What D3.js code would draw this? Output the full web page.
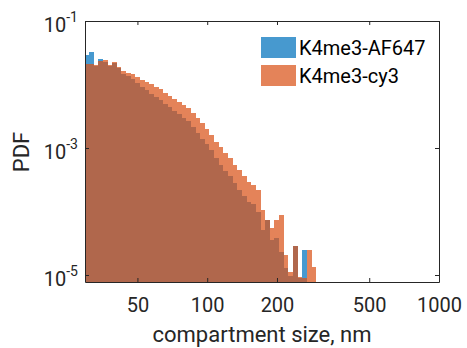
<!DOCTYPE html>
<html>
<head>
<meta charset="utf-8">
<script src="https://cdn.jsdelivr.net/npm/d3@7"></script>
<style>
  html, body { margin: 0; padding: 0; background: #fff; }
  svg { display: block; font-family: Roboto, "Liberation Sans", Arial, sans-serif; }
</style>
</head>
<body>
<svg id="chart" width="467" height="348"></svg>
<script>
// Bin edges (nm), logarithmically spaced
const binEdges = [29.51, 30.90, 32.36, 33.88, 35.48, 37.15, 38.90, 40.74, 42.66, 44.67,
  46.77, 48.98, 51.29, 53.70, 56.23, 58.88, 61.66, 64.57, 67.61, 70.79,
  74.13, 77.62, 81.28, 85.11, 89.13, 93.33, 97.72, 102.3, 107.2, 112.2,
  117.5, 123.0, 128.8, 134.9, 141.3, 147.9, 154.9, 162.2, 169.8, 177.8,
  186.2, 195.0, 204.2, 213.8, 223.9, 234.4, 245.5, 257.0, 269.2, 281.8, 295.1];

// PDF values per bin
const af647Values = [0.0292, 0.0325, 0.0196, 0.0252, 0.0226, 0.0196, 0.0218, 0.0182, 0.0146, 0.0136,
  0.0122, 0.0106, 0.00914, 0.00819, 0.00709, 0.00635, 0.00570, 0.00493, 0.00442, 0.00383,
  0.00343, 0.00296, 0.00266, 0.00214, 0.00172, 0.00139, 0.00116, 0.000931, 0.000696, 0.000540,
  0.000434, 0.000362, 0.000281, 0.000218, 0.000175, 0.000141, 0.000131, 0.0000983, 0.0000512, 0.0000735,
  0.0000356, 0.0000383, 0.0000230, 0.0000129, 0.0000096, 0.0000286, 0.0000090, 0.0000248, 0, 0];

const cy3Values = [0.0210, 0.0210, 0.0203, 0.0234, 0.0243, 0.0203, 0.0226, 0.0189, 0.0163, 0.0152,
  0.0146, 0.0131, 0.0118, 0.0110, 0.0102, 0.00914, 0.00850, 0.00735, 0.00659, 0.00591,
  0.00530, 0.00475, 0.00427, 0.00356, 0.00296, 0.00248, 0.00199, 0.00160, 0.00124, 0.00104,
  0.000834, 0.000696, 0.000540, 0.000450, 0.000362, 0.000292, 0.000261, 0.000218, 0.000106, 0.0000735,
  0.0000550, 0.0000735, 0.0000881, 0.0000206, 0.0000111, 0.0000286, 0.0000093, 0.0000090, 0.0000248, 0.0000134];

const seriesNames = ["K4me3-AF647", "K4me3-cy3"];
const seriesColors = ["#0072BD", "#D95319"];
const xTickValues = [50, 100, 200, 500, 1000];
const yTickExponents = [-1, -3, -5];

const svg = d3.select("#chart");
const L = 85, R = 439, T = 21, B = 282;
const alpha = 0.72;

const x = d3.scaleLog().domain([29.7, 1000]).range([L, R]);
const y = d3.scaleLog().domain([7.76e-6, 0.1]).range([B, T]);

svg.append("defs").append("clipPath").attr("id", "clip")
  .append("rect").attr("x", L).attr("y", T).attr("width", R - L).attr("height", B - T);

const plot = svg.append("g").attr("clip-path", "url(#clip)");

[af647Values, cy3Values].forEach((vals, si) => {
  const data = vals.map((v, i) => ({ x0: binEdges[i], x1: binEdges[i + 1], v }))
    .filter(d => d.v > 0);
  plot.append("g").selectAll("rect").data(data).join("rect")
    .attr("x", d => Math.round(x(d.x0)))
    .attr("width", d => Math.round(x(d.x1)) - Math.round(x(d.x0)))
    .attr("y", d => Math.round(y(d.v)))
    .attr("height", d => B - Math.round(y(d.v)))
    .attr("fill", seriesColors[si])
    .attr("fill-opacity", alpha)
    .attr("shape-rendering", "crispEdges");
});

const axisColor = "#262626";
// Bottom axis
const xAxis = svg.append("g").attr("transform", `translate(0,${B})`)
  .call(d3.axisBottom(x).tickValues(xTickValues).tickFormat(d3.format("d"))
    .tickSizeInner(-4).tickSizeOuter(0).tickPadding(16));
xAxis.select(".domain").attr("stroke", axisColor);
xAxis.selectAll(".tick line").attr("stroke", axisColor);
xAxis.selectAll("text").attr("font-size", 20).attr("fill", "#262626")
  .attr("font-family", "Roboto, 'Liberation Sans', Arial, sans-serif");

// Top axis (ticks only)
const xTop = svg.append("g").attr("transform", `translate(0,${T})`)
  .call(d3.axisTop(x).tickValues(xTickValues).tickFormat("").tickSizeInner(-4).tickSizeOuter(0));
xTop.select(".domain").attr("stroke", axisColor);
xTop.selectAll(".tick line").attr("stroke", axisColor);

// Left axis
const yVals = yTickExponents.map(e => Math.pow(10, e));
const yAxis = svg.append("g").attr("transform", `translate(${L},0)`)
  .call(d3.axisLeft(y).tickValues(yVals).tickFormat("").tickSizeInner(-4).tickSizeOuter(0));
yAxis.select(".domain").attr("stroke", axisColor);
yAxis.selectAll(".tick line").attr("stroke", axisColor);

// Right axis
const yRight = svg.append("g").attr("transform", `translate(${R},0)`)
  .call(d3.axisRight(y).tickValues(yVals).tickFormat("").tickSizeInner(-4).tickSizeOuter(0));
yRight.select(".domain").attr("stroke", axisColor);
yRight.selectAll(".tick line").attr("stroke", axisColor);

// Y tick labels with superscripts
yTickExponents.forEach(e => {
  const ty = y(Math.pow(10, e));
  const t = svg.append("text")
    .attr("x", 78).attr("y", ty + 11)
    .attr("text-anchor", "end")
    .attr("fill", "#262626")
    .attr("font-size", 20);
  t.append("tspan").text("10");
  t.append("tspan").attr("font-size", 14).attr("dy", -10).text(String(e));
});

// Axis titles
svg.append("text")
  .attr("x", (L + R) / 2).attr("y", 342)
  .attr("text-anchor", "middle").attr("font-size", 22).attr("fill", "#262626")
  .text("compartment size, nm");

svg.append("text")
  .attr("transform", `translate(29,152) rotate(-90)`)
  .attr("text-anchor", "middle").attr("font-size", 22).attr("fill", "#262626")
  .text("PDF");

// Legend
const legend = svg.append("g");
seriesNames.forEach((name, i) => {
  const yy = 37 + i * 28;
  legend.append("rect")
    .attr("x", 261).attr("y", yy).attr("width", 35).attr("height", 21)
    .attr("fill", seriesColors[i]).attr("fill-opacity", alpha);
  legend.append("text")
    .attr("x", 299).attr("y", yy + 17.5)
    .attr("font-size", 20).attr("fill", "#000")
    .text(name);
});
</script>
</body>
</html>
